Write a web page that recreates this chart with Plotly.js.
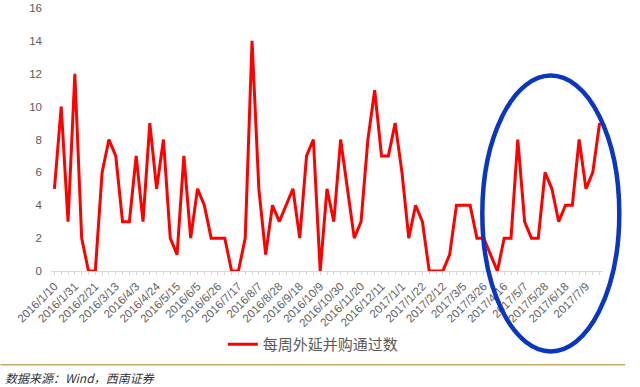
<!DOCTYPE html>
<html>
<head>
<meta charset="utf-8">
<script src="https://cdn.plot.ly/plotly-3.0.1.min.js"></script>
<style>html,body{margin:0;padding:0;background:#fff;}#chart{width:640px;height:387px;}</style>
</head>
<body>
<div id="chart"></div>
<script>
const weeks = [
  "2016/1/10","2016/1/17","2016/1/24","2016/1/31","2016/2/7","2016/2/14","2016/2/21","2016/2/28","2016/3/6","2016/3/13",
  "2016/3/20","2016/3/27","2016/4/3","2016/4/10","2016/4/17","2016/4/24","2016/5/1","2016/5/8","2016/5/15","2016/5/22",
  "2016/5/29","2016/6/5","2016/6/12","2016/6/19","2016/6/26","2016/7/3","2016/7/10","2016/7/17","2016/7/24","2016/7/31",
  "2016/8/7","2016/8/14","2016/8/21","2016/8/28","2016/9/4","2016/9/11","2016/9/18","2016/9/25","2016/10/2","2016/10/9",
  "2016/10/16","2016/10/23","2016/10/30","2016/11/6","2016/11/13","2016/11/20","2016/11/27","2016/12/4","2016/12/11","2016/12/18",
  "2016/12/25","2017/1/1","2017/1/8","2017/1/15","2017/1/22","2017/1/29","2017/2/5","2017/2/12","2017/2/19","2017/2/26",
  "2017/3/5","2017/3/12","2017/3/19","2017/3/26","2017/4/2","2017/4/9","2017/4/16","2017/4/23","2017/4/30","2017/5/7",
  "2017/5/14","2017/5/21","2017/5/28","2017/6/4","2017/6/11","2017/6/18","2017/6/25","2017/7/2","2017/7/9","2017/7/16",
  "2017/7/23"
];
const approvals = [
  5,10,3,12,2,0,0,6,8,7,
  3,3,7,3,9,5,8,2,1,7,
  2,5,4,2,2,2,0,0,2,14,
  5,1,4,3,4,5,2,7,8,0,
  5,3,8,5,2,3,8,11,7,7,
  9,6,2,4,3,0,0,0,1,4,
  4,4,2,2,1,0,2,2,8,3,
  2,2,6,5,3,4,4,8,5,6,
  9
];
const tickLabels = [
  "2016/1/10","2016/1/31","2016/2/21","2016/3/13","2016/4/3","2016/4/24","2016/5/15","2016/6/5","2016/6/26",
  "2016/7/17","2016/8/7","2016/8/28","2016/9/18","2016/10/9","2016/10/30","2016/11/20","2016/12/11","2017/1/1",
  "2017/1/22","2017/2/12","2017/3/5","2017/3/26","2017/4/16","2017/5/7","2017/5/28","2017/6/18","2017/7/9"
];
const seriesName = "每周外延并购通过数";
const sourceText = "数据来源：<i>Wind</i>，西南证券";

const ticktext = weeks.map(w => tickLabels.includes(w) ? w : "");

// plot area in pixels
const L = 50.6, R = 602.7, T = 8, B = 270.7;
const W = R - L, H = B - T;
const px = x => (x - L) / W;
const py = y => (B - y) / H;

const trace = {
  type: "scatter",
  mode: "lines",
  x: weeks,
  y: approvals,
  name: seriesName,
  line: {color: "#ff0000", width: 3}
};

const layout = {
  width: 640, height: 387,
  margin: {l: L, r: 640 - R, t: T, b: 387 - B, pad: 0},
  paper_bgcolor: "#ffffff",
  plot_bgcolor: "#ffffff",
  font: {family: "Liberation Sans, Arial, sans-serif", color: "#595959"},
  showlegend: true,
  legend: {
    orientation: "h", x: px(313), xanchor: "center", y: py(344), yanchor: "middle",
    font: {family: "Noto Sans CJK SC, sans-serif", size: 15, color: "#595959"},
    bgcolor: "rgba(0,0,0,0)"
  },
  xaxis: {
    type: "category",
    range: [-0.5, weeks.length - 0.5],
    tickmode: "array",
    tickvals: weeks,
    ticktext: ticktext,
    tickangle: -45,
    tickfont: {size: 11.5, color: "#606060"},
    ticks: "outside", ticklen: 3, tickcolor: "#d9d9d9", tickwidth: 1,
    showline: true, linecolor: "#d9d9d9", linewidth: 1,
    showgrid: false, zeroline: false, fixedrange: true
  },
  yaxis: {
    range: [0, 16],
    dtick: 2,
    tickfont: {size: 11.5, color: "#595959"},
    ticks: "", ticklabelstandoff: 8,
    showline: false, showgrid: false, zeroline: false, fixedrange: true
  },
  shapes: [
    {type: "circle", xref: "paper", yref: "paper",
     x0: px(482), x1: px(619), y0: py(351), y1: py(75.5),
     line: {color: "#0b36be", width: 4.5}},
    {type: "line", xref: "paper", yref: "paper",
     x0: px(0), x1: px(625), y0: py(364.3), y1: py(364.3),
     line: {color: "#c9a96b", width: 1.5}}
  ],
  annotations: [
    {xref: "paper", yref: "paper", x: px(3), y: py(377), xanchor: "left", yanchor: "middle",
     text: sourceText, showarrow: false,
     font: {family: "Noto Sans CJK SC, sans-serif", size: 12, color: "#333333", style: "italic"}}
  ]
};

Plotly.newPlot("chart", [trace], layout, {displayModeBar: false, staticPlot: true});
</script>
</body>
</html>
